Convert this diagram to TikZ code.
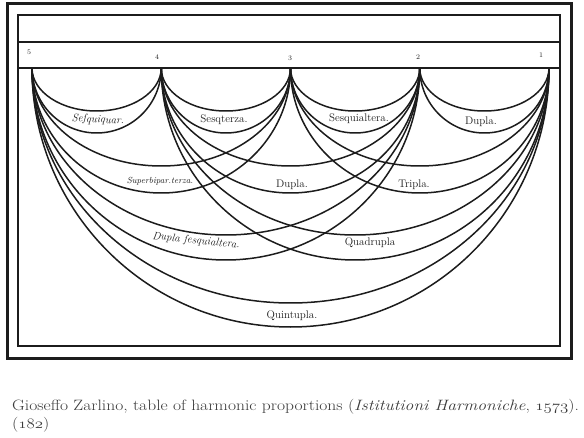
\documentclass[tikz,border=0pt]{standalone}
\usepackage{fontspec}
\definecolor{ink}{HTML}{1C1C1C}
\definecolor{capgray}{HTML}{3A3A3A}
\newcommand\osf[1]{{\usefont{OML}{cmm}{m}{it}#1}}
\tikzset{
  arcline/.style={draw=ink,line width=1.5pt},
  framethick/.style={draw=ink,line width=3pt},
  framethin/.style={draw=ink,line width=1.6pt},
  numlab/.style={text=ink,font=\fontsize{7}{8}\selectfont,inner sep=0pt},
  bandlab/.style={text=ink,font=\fontsize{11}{12}\selectfont,inner sep=0pt},
  caplab/.style={text=capgray,font=\fontsize{15}{17}\selectfont,inner sep=0pt,anchor=west}
}
\newcommand\zband[4]{%
  \draw[arcline] (#1) arc[start angle=180,end angle=360,x radius=#2pt,y radius=#3pt];
  \draw[arcline] (#1) arc[start angle=180,end angle=360,x radius=#2pt,y radius=#4pt];}
\begin{document}
\begin{tikzpicture}[x=1pt,y=1pt]
\useasboundingbox (0,0) rectangle (584,437);
% frames
\draw[framethick] (7,433) rectangle (571,79);
\draw[framethin] (18,422) rectangle (560,91);
\coordinate (la) at (18,395); \coordinate (lb) at (560,395);
\coordinate (ba) at (18,369); \coordinate (bb) at (560,369);
\draw[framethin] (la) -- (lb);
\draw[framethin] (ba) -- (bb);
% points
\coordinate (p5) at (32,369);
\coordinate (p4) at (161.25,369);
\coordinate (p3) at (290.5,369);
\coordinate (p2) at (419.75,369);
\coordinate (p1) at (549,369);
\node[numlab] (n5) at (29,385) {5};
\node[numlab] (n4) at (157,380) {4};
\node[numlab] (n3) at (290,379) {3};
\node[numlab] (n2) at (418,380) {2};
\node[numlab] (n1) at (541,382) {1};
% bands
\zband{p5}{64.625}{65}{43}
\zband{p4}{64.625}{65}{43}
\zband{p3}{64.625}{65}{43}
\zband{p2}{64.625}{65}{43}
\zband{p5}{129.25}{125}{98}
\zband{p4}{129.25}{125}{98}
\zband{p3}{129.25}{125}{98}
\zband{p5}{193.875}{192}{167}
\zband{p4}{193.875}{192}{167}
\zband{p5}{258.5}{259}{235}
% band labels
\node[bandlab,font=\fontsize{11}{12}\selectfont\itshape,rotate=-3] (l54) at (98,317) {Seſquiquar.};
\node[bandlab] (l43) at (224,317) {Sesqterza.};
\node[bandlab] (l32) at (359,318) {Sesquialtera.};
\node[bandlab] (l21) at (481,315) {Dupla.};
\node[bandlab,font=\fontsize{8.8}{10}\selectfont\itshape] (l53) at (160,256) {Superbipar.terza.};
\node[bandlab] (l42) at (292,252) {Dupla.};
\node[bandlab] (l31) at (414,252) {Tripla.};
\node[bandlab,font=\fontsize{11}{12}\selectfont\itshape,rotate=-6] (l52) at (196,196) {Dupla ſesquialtera.};
\node[bandlab] (l41) at (370,194) {Quadrupla};
\node[bandlab] (l51) at (292,121) {Quintupla.};
% caption
\node[caplab] (cap1) at (12,30) {\scalebox{1.17}[1]{Gioseffo Zarlino, table of harmonic proportions (\textit{Istitutioni Harmoniche}, \osf{1573}).}};
\node[caplab] (cap2) at (12,12) {\scalebox{1.17}[1]{(\osf{182})}};
\end{tikzpicture}
\end{document}
